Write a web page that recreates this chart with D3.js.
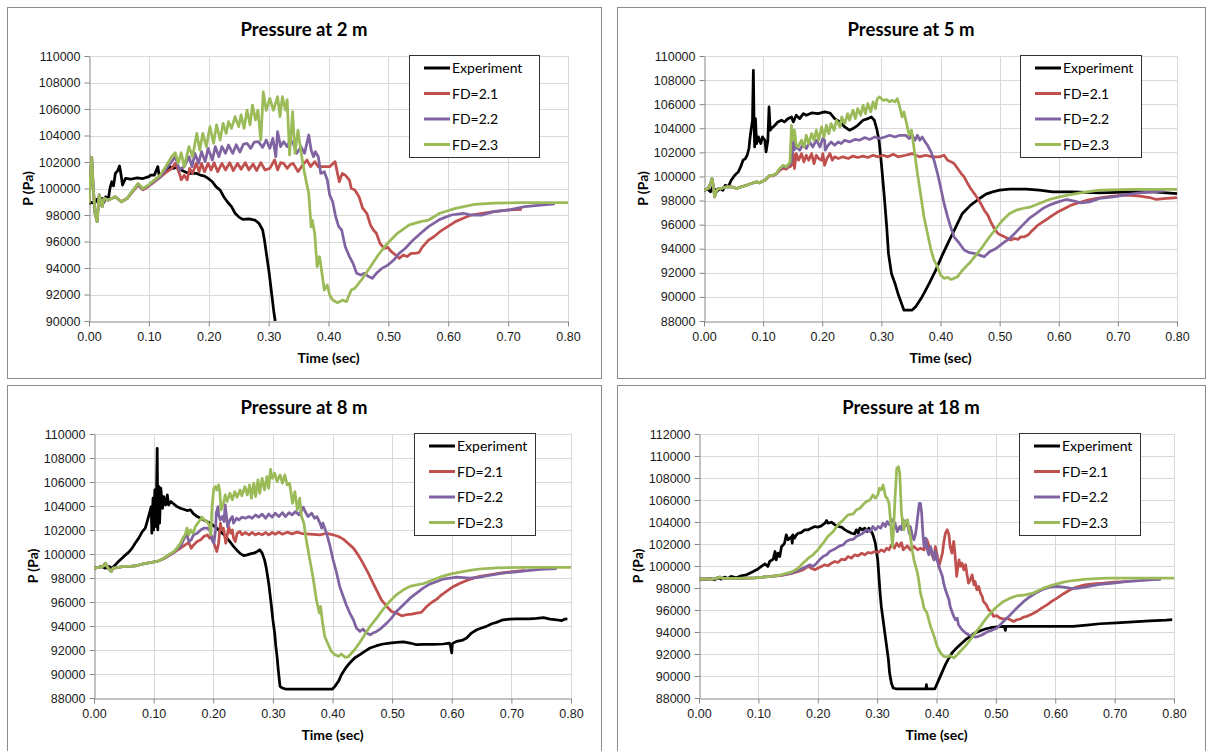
<!DOCTYPE html>
<html>
<head>
<meta charset="utf-8">
<script src="https://cdn.jsdelivr.net/npm/d3@7.9.0/dist/d3.min.js"></script>
<style>
  body { margin: 0; background: #fff; }
  svg { display: block; font-family: Lato, "Open Sans", sans-serif; }
  .tick text { fill: #1a1a1a; font-size: 12.5px; }
  .chart-title { font-size: 18.5px; font-weight: bold; fill: #000; }
  .axis-title { font-size: 14px; font-weight: bold; fill: #000; }
  .legend text { font-size: 14px; fill: #000; }
</style>
</head>
<body>
<svg id="chart" width="1210" height="751"></svg>
<script>
// ---------------------------------------------------------
// Data: [time (s), pressure (Pa)]
// ---------------------------------------------------------
const seriesNames = ["Experiment", "FD=2.1", "FD=2.2", "FD=2.3"];
const seriesColors = ["#000000", "#C0504D", "#8064A2", "#9BBB59"];
const titles = ["Pressure at 2 m", "Pressure at 5 m", "Pressure at 8 m", "Pressure at 18 m"];
const timeTicks = [0, 0.1, 0.2, 0.3, 0.4, 0.5, 0.6, 0.7, 0.8];
const yTicks90 = [90000, 92000, 94000, 96000, 98000, 100000, 102000, 104000, 106000, 108000, 110000];
const yTicks88 = [88000, 90000, 92000, 94000, 96000, 98000, 100000, 102000, 104000, 106000, 108000, 110000];
const yTicks88b = [88000, 90000, 92000, 94000, 96000, 98000, 100000, 102000, 104000, 106000, 108000, 110000, 112000];

// ---- 2 m ----
const p2m_exp = [[0,98880],[0.005,98950],[0.009,98850],[0.0135,99200],[0.017,98950],[0.022,99260],[0.025,98950],[0.028,99380],[0.032,99130],[0.035,100010],[0.038,100510],[0.041,100200],[0.044,101140],[0.048,101350],[0.051,101700],[0.054,100900],[0.056,100260],[0.061,100760],[0.07,100700],[0.08,100800],[0.09,100750],[0.1,100900],[0.103,101010],[0.109,101010],[0.115,101650],[0.117,101010],[0.122,101140],[0.128,101400],[0.135,101650],[0.141,101520],[0.148,101650],[0.154,101400],[0.16,101270],[0.167,101140],[0.173,101140],[0.18,101140],[0.186,101010],[0.193,100940],[0.199,100760],[0.206,100510],[0.212,100140],[0.219,99880],[0.225,99380],[0.231,99000],[0.238,98630],[0.244,98130],[0.251,97820],[0.257,97670],[0.267,97700],[0.277,97620],[0.284,97370],[0.29,96870],[0.293,96110],[0.297,94860],[0.301,93600],[0.305,92090],[0.309,90580],[0.311,90000],[0.315,89000]];
const p2m_fd21 = [[0,98880],[0.0045,102350],[0.007,100140],[0.01,98130],[0.0135,97500],[0.017,99510],[0.022,98630],[0.025,99260],[0.032,99130],[0.044,99380],[0.054,99000],[0.064,99260],[0.0735,99800],[0.082,100250],[0.09,99900],[0.099,100150],[0.109,100500],[0.119,100850],[0.128,101200],[0.138,101500],[0.144,101900],[0.151,101150],[0.154,100650],[0.159,101000],[0.164,100650],[0.168,101520],[0.173,101140],[0.179,101900],[0.184,101270],[0.188,101900],[0.193,101270],[0.199,101900],[0.204,101400],[0.209,101950],[0.215,101270],[0.222,101900],[0.228,101400],[0.235,101950],[0.241,101350],[0.248,101900],[0.254,101450],[0.261,101950],[0.267,101400],[0.274,101850],[0.28,101350],[0.287,101950],[0.294,101400],[0.302,101520],[0.31,102150],[0.315,101400],[0.32,101950],[0.325,101900],[0.331,101520],[0.336,101800],[0.341,101900],[0.349,101270],[0.357,101770],[0.364,102150],[0.37,101650],[0.377,102030],[0.383,101650],[0.393,101650],[0.402,101650],[0.411,102030],[0.415,101140],[0.418,100510],[0.423,101140],[0.428,101010],[0.435,100640],[0.438,100010],[0.444,99880],[0.451,99380],[0.457,98510],[0.464,98130],[0.47,97250],[0.475,96870],[0.48,96620],[0.486,95860],[0.493,95480],[0.499,95560],[0.505,95230],[0.512,94980],[0.518,94730],[0.525,94980],[0.531,94860],[0.538,95100],[0.544,95100],[0.551,95160],[0.557,95600],[0.567,96100],[0.576,96360],[0.586,96740],[0.599,97120],[0.612,97500],[0.625,97750],[0.638,98000],[0.657,98130],[0.676,98250],[0.702,98380],[0.723,98430]];
const p2m_fd22 = [[0,98880],[0.0045,102350],[0.007,100140],[0.01,98130],[0.0135,97500],[0.017,99510],[0.022,98630],[0.025,99260],[0.032,99130],[0.044,99380],[0.054,99000],[0.064,99260],[0.0735,99850],[0.082,100320],[0.09,99950],[0.099,100200],[0.109,100570],[0.119,100900],[0.128,101450],[0.138,102000],[0.144,102400],[0.151,101400],[0.159,101650],[0.167,102400],[0.172,101650],[0.177,102650],[0.183,101900],[0.188,102780],[0.194,102030],[0.199,103030],[0.206,102150],[0.211,103160],[0.217,102400],[0.222,103160],[0.228,102650],[0.233,103280],[0.24,102650],[0.246,103300],[0.252,102750],[0.258,103350],[0.264,103410],[0.27,103030],[0.276,103500],[0.283,103540],[0.29,103100],[0.296,103660],[0.302,103030],[0.307,103790],[0.312,102400],[0.315,104290],[0.32,103160],[0.325,103540],[0.331,103160],[0.336,103660],[0.341,103410],[0.347,102650],[0.354,103160],[0.36,102650],[0.367,104040],[0.371,102900],[0.375,102400],[0.378,102780],[0.383,102400],[0.387,101140],[0.393,101270],[0.398,100640],[0.402,99510],[0.407,99000],[0.412,97870],[0.417,97120],[0.422,96870],[0.428,95610],[0.435,94860],[0.441,94350],[0.447,93600],[0.454,93470],[0.46,93600],[0.467,93350],[0.473,93220],[0.48,93600],[0.489,93970],[0.499,94220],[0.509,94600],[0.518,95100],[0.528,95470],[0.541,96100],[0.554,96620],[0.567,97120],[0.586,97670],[0.605,98000],[0.625,98130],[0.638,98000],[0.657,98000],[0.676,98250],[0.702,98380],[0.728,98630],[0.754,98750],[0.778,98830]];
const p2m_fd23 = [[0,98880],[0.0045,102350],[0.007,100140],[0.01,98130],[0.0135,97500],[0.017,99510],[0.022,98630],[0.025,99260],[0.032,99130],[0.044,99380],[0.054,99000],[0.064,99260],[0.0735,99880],[0.082,100390],[0.09,100000],[0.099,100260],[0.109,100640],[0.119,101010],[0.128,101650],[0.138,102400],[0.144,102700],[0.149,101900],[0.154,102700],[0.159,101650],[0.167,103160],[0.173,102400],[0.18,104160],[0.185,102900],[0.19,104160],[0.196,103160],[0.202,104670],[0.208,103410],[0.213,104800],[0.219,103660],[0.224,104920],[0.229,104160],[0.233,105040],[0.238,104540],[0.244,105420],[0.25,104670],[0.254,105550],[0.259,104540],[0.264,105920],[0.269,104800],[0.273,106300],[0.278,105170],[0.282,105920],[0.287,103660],[0.291,107300],[0.296,105900],[0.302,106800],[0.308,105900],[0.315,106930],[0.319,105420],[0.323,106930],[0.328,105920],[0.331,106700],[0.335,102530],[0.34,105800],[0.344,102650],[0.349,104400],[0.354,102780],[0.36,101140],[0.367,99630],[0.371,97100],[0.373,97600],[0.377,96600],[0.381,94100],[0.385,94860],[0.388,93970],[0.393,92340],[0.398,92720],[0.402,91960],[0.407,91580],[0.415,91380],[0.424,91580],[0.43,91460],[0.438,92340],[0.444,92470],[0.457,93220],[0.47,94100],[0.483,94980],[0.496,95730],[0.515,96620],[0.535,97250],[0.554,97500],[0.567,97620],[0.586,98130],[0.612,98500],[0.644,98800],[0.676,98900],[0.72,98930],[0.8,98930]];

// ---- 5 m ----
const p5m_exp = [[0,98860],[0.007,98920],[0.011,98720],[0.015,99140],[0.021,98720],[0.027,99000],[0.032,98860],[0.036,99270],[0.041,99140],[0.046,99690],[0.052,100100],[0.058,100380],[0.062,100790],[0.066,101350],[0.07,101490],[0.073,101760],[0.076,102320],[0.078,103280],[0.08,103980],[0.082,104670],[0.0835,108810],[0.0846,104670],[0.0857,102450],[0.087,104800],[0.089,102730],[0.092,103280],[0.096,102730],[0.099,103280],[0.103,103010],[0.105,102040],[0.108,103010],[0.11,105770],[0.112,103840],[0.114,103980],[0.12,104250],[0.125,104530],[0.131,104670],[0.136,104530],[0.142,104800],[0.148,104940],[0.151,104530],[0.156,105080],[0.162,104800],[0.168,105220],[0.173,105080],[0.182,105270],[0.193,105220],[0.204,105360],[0.213,105270],[0.221,104800],[0.23,104530],[0.238,104110],[0.246,103840],[0.252,103980],[0.26,104250],[0.269,104670],[0.277,104800],[0.283,104940],[0.288,104670],[0.292,103980],[0.296,103010],[0.3,101070],[0.305,98310],[0.309,95820],[0.312,93610],[0.317,91950],[0.323,91120],[0.328,90290],[0.334,89460],[0.338,88910],[0.352,88910],[0.358,89190],[0.369,90020],[0.381,91120],[0.392,92230],[0.403,93470],[0.415,94720],[0.426,95820],[0.437,96930],[0.451,97620],[0.466,98170],[0.477,98530],[0.488,98720],[0.5,98860],[0.517,98940],[0.545,98940],[0.567,98860],[0.59,98720],[0.624,98720],[0.669,98640],[0.726,98720],[0.76,98720],[0.8,98580]];
const p5m_fd21 = [[0,98860],[0.007,99000],[0.011,99410],[0.0135,99830],[0.016,99140],[0.018,98310],[0.02,98720],[0.024,99000],[0.029,99000],[0.038,99140],[0.046,99140],[0.055,99000],[0.063,99140],[0.072,99270],[0.08,99410],[0.089,99550],[0.094,99470],[0.103,99690],[0.111,100050],[0.117,100050],[0.122,100200],[0.128,100500],[0.134,100700],[0.139,100600],[0.143,100800],[0.1455,100800],[0.148,100930],[0.151,101900],[0.153,100660],[0.156,101900],[0.16,101350],[0.165,101900],[0.169,101210],[0.173,101760],[0.177,101350],[0.182,101900],[0.186,101070],[0.19,101760],[0.194,101490],[0.199,101350],[0.201,101900],[0.204,100930],[0.208,101490],[0.213,101900],[0.217,101350],[0.221,101630],[0.227,101490],[0.235,101630],[0.244,101490],[0.252,101690],[0.26,101570],[0.269,101690],[0.277,101570],[0.286,101760],[0.294,101630],[0.303,101760],[0.311,101630],[0.32,101850],[0.328,101630],[0.341,101760],[0.352,101900],[0.364,101630],[0.375,101760],[0.386,101630],[0.398,101630],[0.406,101760],[0.412,101350],[0.418,101210],[0.423,101070],[0.429,100660],[0.435,100240],[0.44,99960],[0.446,99410],[0.451,99000],[0.457,98580],[0.463,98170],[0.468,97760],[0.474,97200],[0.48,96790],[0.485,96230],[0.491,95680],[0.497,95270],[0.502,95130],[0.508,94990],[0.514,94850],[0.519,94720],[0.525,94850],[0.531,94780],[0.536,94990],[0.542,94990],[0.548,95130],[0.553,95400],[0.559,95680],[0.565,95960],[0.573,96230],[0.582,96510],[0.59,96790],[0.599,97070],[0.61,97340],[0.621,97620],[0.635,97840],[0.649,98030],[0.669,98230],[0.692,98370],[0.715,98450],[0.737,98370],[0.754,98250],[0.765,98090],[0.777,98150],[0.8,98250]];
const p5m_fd22 = [[0,98860],[0.007,99000],[0.011,99410],[0.0135,99830],[0.016,99140],[0.018,98310],[0.02,98720],[0.024,99000],[0.029,99000],[0.038,99140],[0.046,99140],[0.055,99000],[0.063,99140],[0.072,99270],[0.08,99410],[0.089,99550],[0.094,99470],[0.103,99690],[0.111,100080],[0.117,100080],[0.122,100220],[0.128,100600],[0.134,100850],[0.139,100750],[0.143,100950],[0.1455,101000],[0.148,101350],[0.151,103420],[0.152,102180],[0.156,102450],[0.162,102180],[0.168,102730],[0.173,102320],[0.179,102870],[0.184,102450],[0.19,103010],[0.196,102450],[0.201,103150],[0.204,103010],[0.205,102180],[0.21,102590],[0.215,102870],[0.221,102590],[0.227,102870],[0.232,102730],[0.238,103010],[0.246,102870],[0.255,103070],[0.263,103010],[0.272,103230],[0.28,103070],[0.289,103280],[0.297,103150],[0.306,103280],[0.314,103420],[0.323,103280],[0.331,103420],[0.341,103420],[0.347,103150],[0.352,103420],[0.357,103010],[0.361,103420],[0.365,103010],[0.369,103280],[0.374,102870],[0.378,102590],[0.384,102040],[0.389,101350],[0.395,100240],[0.4,99140],[0.406,97760],[0.412,96650],[0.418,95680],[0.423,94990],[0.432,94440],[0.44,93890],[0.449,93670],[0.457,93610],[0.466,93470],[0.474,93330],[0.483,93750],[0.494,94020],[0.505,94440],[0.517,94850],[0.528,95400],[0.539,95960],[0.55,96510],[0.562,96930],[0.573,97340],[0.584,97620],[0.599,97890],[0.613,98090],[0.624,97980],[0.638,97810],[0.652,97890],[0.669,98170],[0.692,98310],[0.715,98500],[0.737,98640],[0.76,98720],[0.78,98800]];
const p5m_fd23 = [[0,98860],[0.007,99000],[0.011,99410],[0.0135,99830],[0.016,99140],[0.018,98310],[0.02,98720],[0.024,99000],[0.029,99000],[0.038,99140],[0.046,99140],[0.055,99000],[0.063,99140],[0.072,99270],[0.08,99410],[0.089,99550],[0.094,99470],[0.103,99690],[0.111,100100],[0.117,100100],[0.122,100240],[0.128,100660],[0.134,100930],[0.139,100800],[0.143,101020],[0.1455,101210],[0.148,104250],[0.149,103560],[0.151,103010],[0.153,103840],[0.156,102590],[0.159,102450],[0.165,103010],[0.169,102450],[0.173,103420],[0.177,102730],[0.182,103560],[0.186,103010],[0.19,103840],[0.194,103010],[0.199,104110],[0.203,103280],[0.207,104250],[0.211,103560],[0.215,104390],[0.22,103840],[0.224,104670],[0.23,104110],[0.233,104940],[0.238,104390],[0.243,105220],[0.246,104670],[0.252,105500],[0.256,104800],[0.26,105630],[0.265,105080],[0.269,105910],[0.273,105220],[0.277,106050],[0.282,105360],[0.286,106190],[0.29,105630],[0.293,106460],[0.297,106600],[0.303,106320],[0.309,106380],[0.314,106190],[0.318,106320],[0.323,106190],[0.327,106460],[0.331,105770],[0.335,104940],[0.338,105360],[0.344,104110],[0.347,103420],[0.351,103840],[0.355,102450],[0.361,100240],[0.367,98310],[0.372,96650],[0.378,95270],[0.384,93890],[0.389,93060],[0.395,92510],[0.4,91810],[0.406,91540],[0.412,91620],[0.418,91450],[0.423,91540],[0.429,91680],[0.435,92090],[0.443,92510],[0.451,92920],[0.46,93470],[0.471,94160],[0.483,94990],[0.494,95680],[0.505,96370],[0.517,96930],[0.528,97200],[0.539,97340],[0.553,97480],[0.567,97760],[0.584,98090],[0.601,98310],[0.624,98530],[0.647,98720],[0.669,98860],[0.726,98920],[0.8,98920]];

// ---- 8 m ----
const p8m_exp = [[0,98820],[0.008,98900],[0.013,98960],[0.019,98820],[0.025,98960],[0.03,98820],[0.036,99100],[0.041,99380],[0.047,99650],[0.053,99930],[0.058,100130],[0.064,100490],[0.069,100900],[0.075,101320],[0.081,101870],[0.086,102150],[0.09,102840],[0.093,103400],[0.096,103950],[0.097,101730],[0.099,104650],[0.1,102010],[0.102,105340],[0.104,102290],[0.106,108810],[0.107,102010],[0.109,105620],[0.11,102570],[0.112,105480],[0.115,103810],[0.117,104780],[0.12,104090],[0.123,104920],[0.125,104090],[0.129,104370],[0.134,104170],[0.139,103950],[0.145,103810],[0.15,103730],[0.156,103620],[0.162,103670],[0.167,103340],[0.173,103120],[0.179,102980],[0.184,102840],[0.19,102700],[0.195,102570],[0.201,102340],[0.206,102150],[0.212,101870],[0.218,101600],[0.223,101320],[0.229,100960],[0.234,100630],[0.24,100300],[0.246,100010],[0.251,99870],[0.257,99930],[0.262,100010],[0.268,100070],[0.274,100210],[0.278,100350],[0.282,100070],[0.286,99510],[0.289,98820],[0.293,97570],[0.297,95910],[0.3,94520],[0.303,93410],[0.305,92300],[0.307,91470],[0.309,90360],[0.312,88970],[0.316,88830],[0.321,88750],[0.4,88750],[0.404,88970],[0.41,89390],[0.415,89940],[0.421,90420],[0.429,90920],[0.437,91330],[0.446,91610],[0.454,91890],[0.463,92170],[0.474,92360],[0.485,92500],[0.496,92580],[0.507,92640],[0.519,92670],[0.53,92580],[0.541,92440],[0.552,92470],[0.569,92470],[0.586,92500],[0.596,92580],[0.598,92300],[0.6,91760],[0.601,92530],[0.608,92720],[0.617,92800],[0.625,93000],[0.633,93410],[0.642,93690],[0.65,93830],[0.658,93970],[0.667,94190],[0.675,94300],[0.686,94520],[0.698,94580],[0.709,94600],[0.72,94600],[0.731,94600],[0.742,94630],[0.754,94690],[0.765,94580],[0.776,94520],[0.784,94440],[0.79,94580],[0.794,94600]];
const p8m_fd21 = [[0,98820],[0.011,98900],[0.016,99010],[0.019,99240],[0.022,98960],[0.026,98680],[0.029,98540],[0.032,98820],[0.039,98870],[0.05,98960],[0.061,98960],[0.072,99040],[0.083,99180],[0.095,99290],[0.106,99380],[0.117,99600],[0.125,99850],[0.134,100100],[0.139,100300],[0.145,100480],[0.153,100760],[0.159,100960],[0.163,100480],[0.167,100760],[0.173,101040],[0.179,101180],[0.184,101460],[0.19,101590],[0.194,101320],[0.198,101460],[0.201,100900],[0.204,100490],[0.206,100210],[0.209,100900],[0.212,102570],[0.214,102010],[0.217,102150],[0.219,101600],[0.221,100900],[0.223,101460],[0.226,102290],[0.229,101730],[0.232,102010],[0.234,101320],[0.237,101040],[0.24,101730],[0.245,101870],[0.248,101600],[0.254,101790],[0.26,101600],[0.265,101790],[0.271,101600],[0.276,101730],[0.282,101600],[0.288,101790],[0.293,101600],[0.299,101790],[0.304,101650],[0.31,101820],[0.316,101650],[0.324,101820],[0.332,101680],[0.341,101820],[0.35,101690],[0.362,101650],[0.379,101600],[0.39,101730],[0.401,101600],[0.41,101460],[0.418,101240],[0.426,100900],[0.435,100490],[0.443,99930],[0.451,99240],[0.46,98400],[0.468,97570],[0.475,96880],[0.482,96180],[0.491,95630],[0.499,95210],[0.507,95080],[0.516,94850],[0.524,94940],[0.533,94990],[0.541,95080],[0.549,95130],[0.558,95630],[0.566,95960],[0.575,96240],[0.583,96600],[0.591,96880],[0.603,97300],[0.614,97570],[0.625,97790],[0.636,97990],[0.647,98130],[0.664,98270],[0.681,98410],[0.703,98540],[0.723,98630]];
const p8m_fd22 = [[0,98820],[0.011,98900],[0.016,99010],[0.019,99240],[0.022,98960],[0.026,98680],[0.029,98540],[0.032,98820],[0.039,98870],[0.05,98960],[0.061,98960],[0.072,99040],[0.083,99180],[0.095,99290],[0.106,99380],[0.117,99620],[0.125,99890],[0.134,100150],[0.139,100400],[0.145,100620],[0.149,101040],[0.153,101460],[0.156,101590],[0.159,101040],[0.163,101180],[0.167,101600],[0.173,101730],[0.179,102010],[0.184,102150],[0.19,102150],[0.194,102010],[0.198,101180],[0.201,100900],[0.204,102010],[0.205,103400],[0.208,103950],[0.209,103260],[0.212,102840],[0.215,103120],[0.218,102700],[0.22,104090],[0.222,103260],[0.224,102290],[0.228,102840],[0.232,103120],[0.234,102570],[0.239,102980],[0.243,102840],[0.248,103070],[0.254,102980],[0.26,103120],[0.265,102980],[0.271,103260],[0.276,103070],[0.282,103320],[0.288,102980],[0.293,103340],[0.299,103070],[0.304,103400],[0.31,103120],[0.316,103450],[0.321,103120],[0.327,103450],[0.332,103260],[0.338,103530],[0.344,103260],[0.351,103900],[0.354,103540],[0.359,103120],[0.365,103400],[0.37,102980],[0.374,103120],[0.379,102570],[0.382,102150],[0.384,102570],[0.39,101730],[0.396,100630],[0.401,99510],[0.407,98400],[0.412,97300],[0.418,96460],[0.423,95770],[0.429,95080],[0.435,94520],[0.44,93830],[0.446,93550],[0.451,93750],[0.457,93410],[0.463,93270],[0.468,93410],[0.474,93550],[0.482,93830],[0.491,94240],[0.499,94660],[0.507,95210],[0.519,95770],[0.53,96320],[0.541,96740],[0.552,97160],[0.563,97490],[0.575,97710],[0.586,97910],[0.597,97990],[0.608,98070],[0.619,98040],[0.63,97990],[0.642,98040],[0.653,98130],[0.67,98270],[0.686,98410],[0.709,98520],[0.731,98630],[0.754,98740],[0.776,98790]];
const p8m_fd23 = [[0,98820],[0.011,98900],[0.016,99010],[0.019,99240],[0.022,98960],[0.026,98680],[0.029,98540],[0.032,98820],[0.039,98870],[0.05,98960],[0.061,98960],[0.072,99040],[0.083,99180],[0.095,99290],[0.106,99380],[0.117,99650],[0.125,99930],[0.134,100210],[0.139,100490],[0.145,100900],[0.149,101320],[0.153,101600],[0.156,102150],[0.159,101600],[0.162,102010],[0.166,101730],[0.17,102290],[0.176,102700],[0.181,103070],[0.185,102840],[0.19,102700],[0.194,102290],[0.196,101600],[0.198,103950],[0.201,105480],[0.204,105620],[0.206,105340],[0.209,105760],[0.211,105200],[0.213,103670],[0.217,104230],[0.22,104920],[0.223,104370],[0.228,105060],[0.232,104510],[0.236,105200],[0.24,104730],[0.245,105340],[0.248,104840],[0.253,105620],[0.257,104920],[0.261,105760],[0.264,104650],[0.268,105900],[0.271,104780],[0.275,106180],[0.278,105060],[0.282,106310],[0.286,105340],[0.29,106450],[0.293,105480],[0.296,107060],[0.299,106310],[0.303,106730],[0.307,106040],[0.312,106590],[0.316,105900],[0.32,106590],[0.324,105760],[0.328,105900],[0.333,104230],[0.337,105200],[0.341,103670],[0.345,104650],[0.348,103120],[0.352,102570],[0.356,101180],[0.362,99510],[0.368,97850],[0.373,96180],[0.378,95080],[0.38,95630],[0.383,94380],[0.387,93130],[0.393,92440],[0.398,91890],[0.404,91610],[0.41,91470],[0.415,91670],[0.421,91390],[0.426,91420],[0.432,91750],[0.437,92020],[0.446,92640],[0.454,93270],[0.463,93970],[0.474,94660],[0.485,95410],[0.496,96050],[0.507,96600],[0.519,97020],[0.53,97300],[0.541,97430],[0.552,97520],[0.566,97790],[0.58,98070],[0.597,98320],[0.614,98490],[0.63,98630],[0.65,98770],[0.675,98850],[0.72,98880],[0.8,98880]];

// ---- 18 m ----
const p18m_exp = [[0,98810],[0.01,98810],[0.021,98840],[0.026,98750],[0.032,98930],[0.038,98810],[0.043,98990],[0.049,98870],[0.054,99050],[0.063,98930],[0.071,99110],[0.08,99200],[0.088,99410],[0.097,99650],[0.105,99960],[0.111,100200],[0.116,99960],[0.119,100410],[0.125,100620],[0.128,101320],[0.13,100560],[0.133,101170],[0.136,100860],[0.139,101770],[0.142,101920],[0.144,102070],[0.147,102830],[0.15,102380],[0.153,102530],[0.156,102680],[0.157,102070],[0.158,102830],[0.161,102530],[0.164,102830],[0.167,102980],[0.172,103040],[0.178,103290],[0.184,103290],[0.189,103440],[0.195,103590],[0.2,103530],[0.206,103650],[0.212,103890],[0.215,104130],[0.217,103890],[0.223,103980],[0.229,103740],[0.234,103590],[0.24,103530],[0.246,103290],[0.251,103130],[0.257,102980],[0.262,102920],[0.265,103290],[0.268,102980],[0.271,103440],[0.275,103290],[0.279,103440],[0.283,103130],[0.286,103440],[0.289,103290],[0.293,102830],[0.297,102070],[0.301,100560],[0.303,99050],[0.305,97540],[0.307,96320],[0.31,95110],[0.313,93900],[0.316,92700],[0.319,91490],[0.321,90270],[0.324,89370],[0.327,88910],[0.333,88820],[0.382,88820],[0.383,89210],[0.384,88820],[0.397,88820],[0.399,89060],[0.404,89670],[0.41,90420],[0.415,91030],[0.421,91640],[0.426,92090],[0.432,92450],[0.437,92700],[0.443,93000],[0.449,93300],[0.457,93610],[0.465,93910],[0.474,94120],[0.482,94270],[0.491,94390],[0.499,94450],[0.507,94480],[0.514,94510],[0.516,94150],[0.517,94510],[0.535,94510],[0.563,94510],[0.591,94510],[0.63,94510],[0.653,94630],[0.675,94750],[0.703,94840],[0.731,94930],[0.759,95020],[0.787,95080],[0.797,95120]];
const p18m_fd21 = [[0,98810],[0.026,98840],[0.035,98990],[0.04,98870],[0.066,98870],[0.094,98930],[0.122,99050],[0.139,99140],[0.156,99320],[0.167,99500],[0.175,99650],[0.184,99960],[0.189,99800],[0.195,99650],[0.2,99800],[0.206,99960],[0.212,100110],[0.217,100020],[0.223,100260],[0.229,100410],[0.234,100320],[0.24,100620],[0.246,100560],[0.251,100860],[0.257,100710],[0.262,101020],[0.268,100920],[0.274,101170],[0.279,101020],[0.285,101230],[0.29,101170],[0.296,101320],[0.302,101230],[0.307,101470],[0.312,101320],[0.316,101620],[0.32,101470],[0.324,101920],[0.329,101620],[0.333,102070],[0.337,101770],[0.341,102130],[0.344,101470],[0.351,101830],[0.356,101470],[0.362,101770],[0.368,101470],[0.373,101620],[0.379,101470],[0.384,102380],[0.39,101320],[0.396,100560],[0.398,101770],[0.401,101020],[0.404,99960],[0.407,100560],[0.41,101170],[0.412,102070],[0.415,102980],[0.418,103290],[0.421,102830],[0.423,101770],[0.426,101170],[0.429,102230],[0.431,101170],[0.434,99050],[0.436,99960],[0.438,100560],[0.44,99960],[0.443,100260],[0.446,99650],[0.449,100110],[0.451,99350],[0.454,98440],[0.457,98750],[0.46,99200],[0.463,98290],[0.465,98590],[0.468,97840],[0.471,98140],[0.474,97540],[0.477,97230],[0.479,96780],[0.484,96470],[0.488,96020],[0.492,95870],[0.496,95420],[0.502,95480],[0.507,95260],[0.513,95180],[0.519,95240],[0.524,95110],[0.53,94960],[0.535,95110],[0.541,95180],[0.547,95360],[0.552,95420],[0.561,95630],[0.569,95870],[0.577,96170],[0.586,96470],[0.594,96780],[0.603,97080],[0.614,97480],[0.625,97840],[0.636,98080],[0.65,98290],[0.664,98380],[0.681,98440],[0.7,98530],[0.723,98590]];
const p18m_fd22 = [[0,98810],[0.026,98840],[0.035,98990],[0.04,98870],[0.066,98870],[0.094,98930],[0.122,99050],[0.139,99170],[0.156,99380],[0.167,99590],[0.175,99800],[0.181,99960],[0.187,100110],[0.192,99960],[0.198,100260],[0.203,100560],[0.209,100860],[0.215,101020],[0.22,101320],[0.226,101470],[0.231,101620],[0.237,101830],[0.243,101920],[0.248,102230],[0.254,102380],[0.26,102440],[0.265,102680],[0.271,102830],[0.276,102980],[0.282,103290],[0.288,103130],[0.293,103590],[0.297,103290],[0.302,103590],[0.306,103440],[0.31,103890],[0.314,103590],[0.317,104040],[0.321,103740],[0.325,104200],[0.33,103890],[0.334,103130],[0.338,103590],[0.341,103290],[0.344,104200],[0.347,103590],[0.351,104040],[0.354,102980],[0.356,103590],[0.359,102830],[0.362,102380],[0.365,102980],[0.368,104340],[0.371,105700],[0.373,105700],[0.375,104800],[0.377,102980],[0.379,101770],[0.382,102530],[0.384,101620],[0.387,101020],[0.39,101770],[0.393,101170],[0.396,100560],[0.398,101320],[0.401,100560],[0.404,99960],[0.407,99500],[0.41,99050],[0.412,98440],[0.415,97840],[0.418,97380],[0.421,96930],[0.423,96320],[0.426,95870],[0.429,95420],[0.432,95110],[0.435,95260],[0.437,94660],[0.443,94200],[0.449,93910],[0.454,93750],[0.46,93660],[0.465,93540],[0.471,93610],[0.477,93750],[0.482,93910],[0.488,94060],[0.493,94150],[0.502,94360],[0.51,94810],[0.519,95270],[0.527,95720],[0.535,96170],[0.547,96780],[0.558,97230],[0.569,97600],[0.58,97900],[0.591,98080],[0.603,98140],[0.614,98080],[0.625,97990],[0.636,97960],[0.647,98050],[0.661,98200],[0.675,98320],[0.698,98440],[0.72,98590],[0.742,98680],[0.765,98750],[0.778,98780]];
const p18m_fd23 = [[0,98810],[0.026,98840],[0.035,98990],[0.04,98870],[0.066,98870],[0.094,98930],[0.122,99050],[0.139,99200],[0.156,99470],[0.167,99800],[0.175,100260],[0.184,100710],[0.192,101020],[0.2,101470],[0.209,102070],[0.217,102680],[0.226,103130],[0.234,103740],[0.243,104190],[0.251,104650],[0.26,104740],[0.265,105100],[0.271,105250],[0.276,105560],[0.282,105860],[0.288,106010],[0.293,106460],[0.297,106160],[0.301,106460],[0.304,107070],[0.307,106920],[0.31,107370],[0.312,106920],[0.314,106310],[0.317,106160],[0.32,105700],[0.322,104490],[0.324,102980],[0.326,101770],[0.328,103590],[0.33,106000],[0.333,108880],[0.336,109030],[0.338,108500],[0.341,104800],[0.345,103290],[0.348,104040],[0.351,104200],[0.354,103290],[0.356,102680],[0.359,101470],[0.362,100560],[0.365,99960],[0.368,99350],[0.37,98750],[0.373,97540],[0.376,96930],[0.379,96170],[0.384,95720],[0.39,94510],[0.396,93600],[0.401,92700],[0.407,92090],[0.412,91790],[0.418,91730],[0.423,91850],[0.429,91640],[0.435,91940],[0.44,92240],[0.449,92750],[0.457,93300],[0.465,93910],[0.474,94510],[0.482,95120],[0.491,95720],[0.502,96320],[0.513,96780],[0.524,97080],[0.535,97290],[0.549,97380],[0.563,97540],[0.58,97990],[0.597,98290],[0.614,98530],[0.63,98680],[0.653,98810],[0.687,98900],[0.731,98900],[0.8,98900]];

// ---------------------------------------------------------
// Layout of the four panels
// ---------------------------------------------------------
const panels = [
  { title: titles[0], series: [p2m_exp, p2m_fd21, p2m_fd22, p2m_fd23], yTicks: yTicks90,
    frame: [7, 7, 594, 371], plot: { left: 89, right: 568, top: 56, bottom: 321 },
    legend: { x: 409, y: 55, w: 130, h: 102 } },
  { title: titles[1], series: [p5m_exp, p5m_fd21, p5m_fd22, p5m_fd23], yTicks: yTicks88,
    frame: [617, 7, 588, 371], plot: { left: 704, right: 1177, top: 56, bottom: 321 },
    legend: { x: 1020, y: 55, w: 121, h: 102 } },
  { title: titles[2], series: [p8m_exp, p8m_fd21, p8m_fd22, p8m_fd23], yTicks: yTicks88,
    frame: [7, 385, 594, 370], plot: { left: 94, right: 571, top: 434, bottom: 698 },
    legend: { x: 414, y: 433, w: 121, h: 102 } },
  { title: titles[3], series: [p18m_exp, p18m_fd21, p18m_fd22, p18m_fd23], yTicks: yTicks88b,
    frame: [617, 385, 588, 370], plot: { left: 699, right: 1174, top: 434, bottom: 698 },
    legend: { x: 1019, y: 433, w: 121, h: 102 } }
];

const svg = d3.select("#chart");

function drawPanel(p, i) {
  const g = svg.append("g");
  const pl = p.plot;

  g.append("rect")
    .attr("x", p.frame[0] + 0.5).attr("y", p.frame[1] + 0.5)
    .attr("width", p.frame[2]).attr("height", p.frame[3])
    .attr("fill", "#fff").attr("stroke", "#8c8c8c");

  const x = d3.scaleLinear().domain([0, 0.8]).range([pl.left, pl.right]);
  const y = d3.scaleLinear().domain(d3.extent(p.yTicks)).range([pl.bottom, pl.top]);

  // gridlines
  g.append("g").selectAll("line").data(p.yTicks.slice(1)).join("line")
    .attr("x1", pl.left).attr("x2", pl.right)
    .attr("y1", d => Math.round(y(d)) + 0.5).attr("y2", d => Math.round(y(d)) + 0.5)
    .attr("stroke", "#d9d9d9");
  g.append("g").selectAll("line").data(timeTicks.slice(1)).join("line")
    .attr("x1", d => Math.round(x(d)) + 0.5).attr("x2", d => Math.round(x(d)) + 0.5)
    .attr("y1", pl.top).attr("y2", pl.bottom)
    .attr("stroke", "#d9d9d9");

  // axes
  const yAxis = g.append("g")
    .attr("transform", `translate(${Math.round(pl.left) + 0.5},0)`)
    .call(d3.axisLeft(y).tickValues(p.yTicks).tickSize(5).tickSizeOuter(0)
      .tickPadding(4).tickFormat(d3.format("d")));
  const xAxis = g.append("g")
    .attr("transform", `translate(0,${Math.round(pl.bottom) + 0.5})`)
    .call(d3.axisBottom(x).tickValues(timeTicks).tickSize(5).tickSizeOuter(0)
      .tickPadding(6).tickFormat(d3.format(".2f")));
  [yAxis, xAxis].forEach(a => {
    a.select(".domain").attr("stroke", "#868686");
    a.selectAll(".tick line").attr("stroke", "#868686");
    a.selectAll(".tick text").attr("font-family", null).attr("font-size", null);
  });

  // titles
  g.append("text").attr("class", "chart-title")
    .attr("x", p.frame[0] + p.frame[2] / 2).attr("y", p.frame[1] + 29)
    .attr("text-anchor", "middle").text(p.title);
  g.append("text").attr("class", "axis-title")
    .attr("x", (pl.left + pl.right) / 2).attr("y", pl.bottom + 42)
    .attr("text-anchor", "middle").text("Time (sec)");
  g.append("text").attr("class", "axis-title")
    .attr("transform", `translate(${pl.left - 56},${(pl.top + pl.bottom) / 2}) rotate(-90)`)
    .attr("text-anchor", "middle").text("P (Pa)");

  // series
  const clipId = "clip" + i;
  g.append("clipPath").attr("id", clipId).append("rect")
    .attr("x", pl.left).attr("y", pl.top - 2)
    .attr("width", pl.right - pl.left + 2).attr("height", pl.bottom - pl.top + 2);

  const line = d3.line().x(d => x(d[0])).y(d => y(d[1]));
  g.append("g").attr("clip-path", `url(#${clipId})`)
    .selectAll("path").data(p.series).join("path")
    .attr("d", line)
    .attr("fill", "none")
    .attr("stroke", (d, k) => seriesColors[k])
    .attr("stroke-width", 2.75)
    .attr("stroke-linejoin", "round");

  // legend
  const lg = p.legend;
  const leg = g.append("g").attr("class", "legend");
  leg.append("rect")
    .attr("x", lg.x + 0.5).attr("y", lg.y + 0.5).attr("width", lg.w).attr("height", lg.h)
    .attr("fill", "#fff").attr("stroke", "#333");
  seriesNames.forEach((name, k) => {
    const cy = lg.y + 13 + k * 25.5;
    leg.append("line")
      .attr("x1", lg.x + 15).attr("x2", lg.x + 41)
      .attr("y1", cy).attr("y2", cy)
      .attr("stroke", seriesColors[k]).attr("stroke-width", 3);
    leg.append("text")
      .attr("x", lg.x + 43).attr("y", cy + 5)
      .text(name);
  });
}

panels.forEach(drawPanel);
</script>
</body>
</html>
